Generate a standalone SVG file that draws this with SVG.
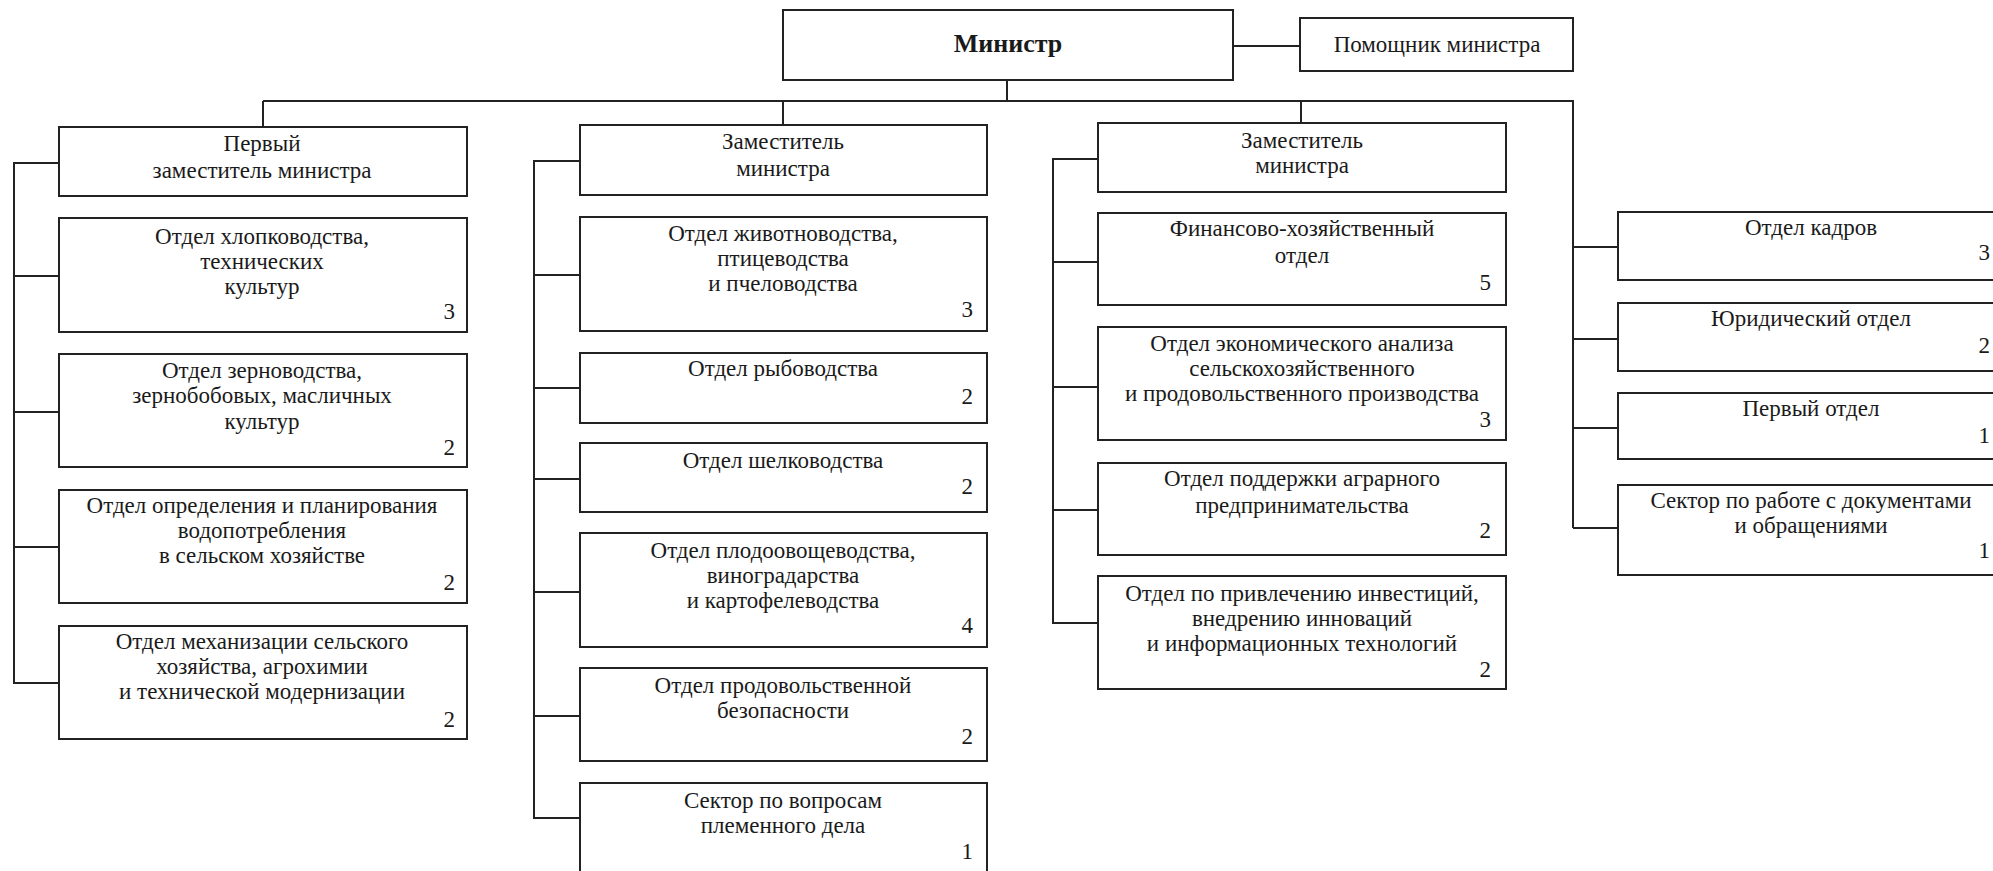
<svg xmlns="http://www.w3.org/2000/svg" width="1993" height="871" viewBox="0 0 1993 871">
<style>
.b{fill:#fff;stroke:#222;stroke-width:2}
.c{fill:none;stroke:#222;stroke-width:2}
text{font-family:"Liberation Serif","Times New Roman",serif;font-size:23px;fill:#1a1a1a}
.m{text-anchor:middle}
.n{text-anchor:end}
.t{font-weight:bold;font-size:26px}
</style>
<rect width="1993" height="871" fill="#fff"/>
<g id="connectors">
<path class="c" d="M1233 46H1300M1007 80V101M263 101H1573V528M263 101V127M783 101V125M1301 101V123"/>
<path class="c" d="M59 163H14V683H59M14 276H59M14 412H59M14 547H59"/>
<path class="c" d="M580 161H534V818H580M534 275H580M534 388H580M534 479H580M534 592H580M534 716H580"/>
<path class="c" d="M1098 159H1053V623H1098M1053 262H1098M1053 387H1098M1053 510H1098"/>
<path class="c" d="M1573 247H1618M1573 339H1618M1573 428H1618M1573 528H1618"/>
</g>
<g id="minister"><rect class="b" x="783" y="10" width="450" height="70"/><text class="m t" x="1008" y="52">Министр</text></g>
<g id="assistant"><rect class="b" x="1300" y="18" width="273" height="53"/><text class="m" x="1437" y="52">Помощник министра</text></g>

<g id="c1-head"><rect class="b" x="59" y="127" width="408" height="69"/><text class="m" x="262" y="151">Первый</text><text class="m" x="262" y="178">заместитель министра</text></g>
<g id="c1-1"><rect class="b" x="59" y="218" width="408" height="114"/><text class="m" x="262" y="244">Отдел хлопководства,</text><text class="m" x="262" y="269">технических</text><text class="m" x="262" y="294">культур</text><text class="n" x="455" y="319">3</text></g>
<g id="c1-2"><rect class="b" x="59" y="354" width="408" height="113"/><text class="m" x="262" y="378">Отдел зерноводства,</text><text class="m" x="262" y="403">зернобобовых, масличных</text><text class="m" x="262" y="429">культур</text><text class="n" x="455" y="455">2</text></g>
<g id="c1-3"><rect class="b" x="59" y="490" width="408" height="113"/><text class="m" x="262" y="513">Отдел определения и планирования</text><text class="m" x="262" y="538">водопотребления</text><text class="m" x="262" y="563">в сельском хозяйстве</text><text class="n" x="455" y="590">2</text></g>
<g id="c1-4"><rect class="b" x="59" y="626" width="408" height="113"/><text class="m" x="262" y="649">Отдел механизации сельского</text><text class="m" x="262" y="674">хозяйства, агрохимии</text><text class="m" x="262" y="699">и технической модернизации</text><text class="n" x="455" y="727">2</text></g>

<g id="c2-head"><rect class="b" x="580" y="125" width="407" height="70"/><text class="m" x="783" y="149">Заместитель</text><text class="m" x="783" y="176">министра</text></g>
<g id="c2-1"><rect class="b" x="580" y="217" width="407" height="114"/><text class="m" x="783" y="241">Отдел животноводства,</text><text class="m" x="783" y="266">птицеводства</text><text class="m" x="783" y="291">и пчеловодства</text><text class="n" x="973" y="317">3</text></g>
<g id="c2-2"><rect class="b" x="580" y="353" width="407" height="70"/><text class="m" x="783" y="376">Отдел рыбоводства</text><text class="n" x="973" y="404">2</text></g>
<g id="c2-3"><rect class="b" x="580" y="443" width="407" height="69"/><text class="m" x="783" y="468">Отдел шелководства</text><text class="n" x="973" y="494">2</text></g>
<g id="c2-4"><rect class="b" x="580" y="533" width="407" height="114"/><text class="m" x="783" y="558">Отдел плодоовощеводства,</text><text class="m" x="783" y="583">виноградарства</text><text class="m" x="783" y="608">и картофелеводства</text><text class="n" x="973" y="633">4</text></g>
<g id="c2-5"><rect class="b" x="580" y="668" width="407" height="93"/><text class="m" x="783" y="693">Отдел продовольственной</text><text class="m" x="783" y="718">безопасности</text><text class="n" x="973" y="744">2</text></g>
<g id="c2-6"><rect class="b" x="580" y="783" width="407" height="95"/><text class="m" x="783" y="808">Сектор по вопросам</text><text class="m" x="783" y="833">племенного дела</text><text class="n" x="973" y="859">1</text></g>

<g id="c3-head"><rect class="b" x="1098" y="123" width="408" height="69"/><text class="m" x="1302" y="148">Заместитель</text><text class="m" x="1302" y="173">министра</text></g>
<g id="c3-1"><rect class="b" x="1098" y="213" width="408" height="92"/><text class="m" x="1302" y="236">Финансово-хозяйственный</text><text class="m" x="1302" y="263">отдел</text><text class="n" x="1491" y="290">5</text></g>
<g id="c3-2"><rect class="b" x="1098" y="327" width="408" height="113"/><text class="m" x="1302" y="351">Отдел экономического анализа</text><text class="m" x="1302" y="376">сельскохозяйственного</text><text class="m" x="1302" y="401">и продовольственного производства</text><text class="n" x="1491" y="427">3</text></g>
<g id="c3-3"><rect class="b" x="1098" y="463" width="408" height="92"/><text class="m" x="1302" y="486">Отдел поддержки аграрного</text><text class="m" x="1302" y="513">предпринимательства</text><text class="n" x="1491" y="538">2</text></g>
<g id="c3-4"><rect class="b" x="1098" y="576" width="408" height="113"/><text class="m" x="1302" y="601">Отдел по привлечению инвестиций,</text><text class="m" x="1302" y="626">внедрению инноваций</text><text class="m" x="1302" y="651">и информационных технологий</text><text class="n" x="1491" y="677">2</text></g>

<g id="c4-1"><rect class="b" x="1618" y="212" width="390" height="68"/><text class="m" x="1811" y="235">Отдел кадров</text><text class="n" x="1990" y="260">3</text></g>
<g id="c4-2"><rect class="b" x="1618" y="303" width="390" height="68"/><text class="m" x="1811" y="326">Юридический отдел</text><text class="n" x="1990" y="353">2</text></g>
<g id="c4-3"><rect class="b" x="1618" y="393" width="390" height="66"/><text class="m" x="1811" y="416">Первый отдел</text><text class="n" x="1990" y="443">1</text></g>
<g id="c4-4"><rect class="b" x="1618" y="485" width="390" height="90"/><text class="m" x="1811" y="508">Сектор по работе с документами</text><text class="m" x="1811" y="533">и обращениями</text><text class="n" x="1990" y="558">1</text></g>
</svg>
